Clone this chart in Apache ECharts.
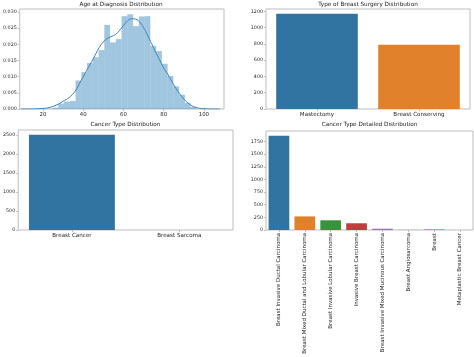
<!DOCTYPE html>
<html>
<head>
<meta charset="utf-8">
<script src="https://cdn.jsdelivr.net/npm/echarts@6/dist/echarts.min.js"></script>
<style>
html,body{margin:0;padding:0;background:#fff;}
#c{width:474px;height:357px;}
</style>
</head>
<body>
<div id="c"></div>
<script>
// ---- Data ----
const ageBinEdges = [21.93, 24.79, 27.65, 30.51, 33.37, 36.23, 39.09, 41.95, 44.81, 47.67, 50.53, 53.39, 56.25, 59.11, 61.97, 64.83, 67.69, 70.55, 73.41, 76.27, 79.13, 81.99, 84.85, 87.71, 90.57, 93.43, 96.29];
const ageDensity = [0.0001, 0.0004, 0.0017, 0.0023, 0.0025, 0.0088, 0.0114, 0.0142, 0.0160, 0.0182, 0.0260, 0.0206, 0.0216, 0.0287, 0.0293, 0.0256, 0.0286, 0.0287, 0.0195, 0.0179, 0.0140, 0.0102, 0.0070, 0.0044, 0.0019, 0.0006];
const kdeAges = [9, 14, 18, 22, 25, 28, 30, 33, 36, 39, 42, 45, 48, 50, 52, 54, 56, 58, 60, 62, 64, 66, 68, 70, 72, 74, 76, 78, 80, 82, 84, 86, 88, 90, 92, 94, 96, 98, 100, 104, 108];
const kdeDensity = [0.0000, 0.0000, 0.0001, 0.0003, 0.0008, 0.0016, 0.0024, 0.0035, 0.0055, 0.0088, 0.0122, 0.0155, 0.0190, 0.0207, 0.0218, 0.0224, 0.0230, 0.0242, 0.0258, 0.0272, 0.0279, 0.0278, 0.0270, 0.0252, 0.0228, 0.0202, 0.0176, 0.0152, 0.0127, 0.0108, 0.0086, 0.0065, 0.0047, 0.0031, 0.0019, 0.0010, 0.0005, 0.0002, 0.0001, 0.0000, 0.0000];
const ageXTicks = [20, 40, 60, 80, 100];
const ageYTicks = [0, 0.005, 0.010, 0.015, 0.020, 0.025, 0.030];

const surgeryCats = ['Mastectomy', 'Breast Conserving'];
const surgeryCounts = [1170, 788];
const surgeryYTicks = [0, 200, 400, 600, 800, 1000, 1200];

const cancerTypeCats = ['Breast Cancer', 'Breast Sarcoma'];
const cancerTypeCounts = [2506, 3];
const cancerTypeYTicks = [0, 500, 1000, 1500, 2000, 2500];

const detailCats = ['Breast Invasive Ductal Carcinoma', 'Breast Mixed Ductal and Lobular Carcinoma', 'Breast Invasive Lobular Carcinoma', 'Invasive Breast Carcinoma', 'Breast Invasive Mixed Mucinous Carcinoma', 'Breast Angiosarcoma', 'Breast', 'Metaplastic Breast Cancer'];
const detailCounts = [1865, 269, 192, 133, 25, 2, 17, 1];
const detailYTicks = [0, 250, 500, 750, 1000, 1250, 1500, 1750];

// ---- Style ----
const palette = ['#3274a1', '#e1812c', '#3a923a', '#c03d3e', '#9372b2', '#845b53', '#d684bd', '#7f7f7f'];
const FONT = 'DejaVu Sans';
const txt = '#262626';
const spine = '#bdbdbd';

const grids = [
  {left: 18, top: 9, width: 206, height: 100},
  {left: 266, top: 9, width: 204, height: 100},
  {left: 18, top: 130, width: 215, height: 100},
  {left: 266, top: 131, width: 207, height: 99}
];
grids.forEach(g => { g.show = true; g.borderColor = spine; g.borderWidth = 1; g.backgroundColor = 'transparent'; });

function yAxisFor(gi, ticks, max, fmt) {
  return {
    type: 'value', gridIndex: gi, min: 0, max: max,
    splitLine: {show: false},
    axisLine: {show: false},
    axisTick: {show: true, length: 2, lineStyle: {color: spine}, customValues: ticks},
    axisLabel: {customValues: ticks, fontFamily: FONT, fontSize: 4.8, color: txt, margin: 3,
      formatter: fmt || (v => String(v))}
  };
}
function catAxisFor(gi, cats, extra) {
  return Object.assign({
    type: 'category', gridIndex: gi, data: cats,
    axisLine: {show: false},
    axisTick: {show: true, alignWithLabel: true, length: 2, lineStyle: {color: spine}},
    axisLabel: {fontFamily: FONT, fontSize: 5.6, color: txt, margin: 3, interval: 0}
  }, extra || {});
}
function coloredData(vals) {
  return vals.map((v, i) => ({value: v, itemStyle: {color: palette[i % palette.length]}}));
}

const histData = ageDensity.map((d, i) => [ageBinEdges[i], ageBinEdges[i + 1], d]);
const kdeData = kdeAges.map((a, i) => [a, kdeDensity[i]]);
const histMax = Math.max(Math.max(...ageDensity), Math.max(...kdeDensity)) * 1.055;

const titleStyle = {fontFamily: FONT, fontSize: 5.7, color: '#1a1a1a', fontWeight: 'normal'};
const option = {
  animation: false,
  backgroundColor: '#fff',
  title: [
    {text: 'Age at Diagnosis Distribution', left: 121, top: 1.5, textAlign: 'center', textStyle: titleStyle, padding: 0},
    {text: 'Type of Breast Surgery Distribution', left: 368, top: 1.5, textAlign: 'center', textStyle: titleStyle, padding: 0},
    {text: 'Cancer Type Distribution', left: 125.5, top: 122, textAlign: 'center', textStyle: titleStyle, padding: 0},
    {text: 'Cancer Type Detailed Distribution', left: 369.5, top: 122, textAlign: 'center', textStyle: titleStyle, padding: 0}
  ],
  grid: grids,
  xAxis: [
    {type: 'value', gridIndex: 0, min: 8.5, max: 110, splitLine: {show: false}, axisLine: {show: false},
     axisTick: {show: true, length: 2, lineStyle: {color: spine}, customValues: ageXTicks},
     axisLabel: {customValues: ageXTicks, fontFamily: FONT, fontSize: 5.4, color: txt, margin: 3}},
    catAxisFor(1, surgeryCats),
    catAxisFor(2, cancerTypeCats),
    catAxisFor(3, detailCats, {axisLabel: {fontFamily: FONT, fontSize: 5.5, color: txt, margin: 3, interval: 0, rotate: 90}})
  ],
  yAxis: [
    yAxisFor(0, ageYTicks, histMax, v => v.toFixed(3)),
    yAxisFor(1, surgeryYTicks, Math.max(...surgeryCounts) * 1.05),
    yAxisFor(2, cancerTypeYTicks, Math.max(...cancerTypeCounts) * 1.05),
    yAxisFor(3, detailYTicks, Math.max(...detailCounts) * 1.05)
  ],
  series: [
    {
      type: 'custom', xAxisIndex: 0, yAxisIndex: 0, data: histData, silent: true,
      renderItem: function (params, api) {
        const p0 = api.coord([api.value(0), api.value(2)]);
        const p1 = api.coord([api.value(1), 0]);
        return {type: 'rect', shape: {x: p0[0], y: p0[1], width: p1[0] - p0[0], height: p1[1] - p0[1]},
          style: {fill: 'rgba(31,119,180,0.42)'}};
      }
    },
    {
      type: 'line', xAxisIndex: 0, yAxisIndex: 0, data: kdeData, smooth: 0.4, showSymbol: false,
      lineStyle: {color: '#3f82b8', width: 1}, silent: true
    },
    {type: 'bar', xAxisIndex: 1, yAxisIndex: 1, data: coloredData(surgeryCounts), barWidth: '80%', silent: true},
    {type: 'bar', xAxisIndex: 2, yAxisIndex: 2, data: coloredData(cancerTypeCounts), barWidth: '80%', silent: true},
    {type: 'bar', xAxisIndex: 3, yAxisIndex: 3, data: coloredData(detailCounts), barWidth: '80%', silent: true}
  ]
};

const chart = echarts.init(document.getElementById('c'), null, {renderer: 'canvas'});
chart.setOption(option);
</script>
</body>
</html>
